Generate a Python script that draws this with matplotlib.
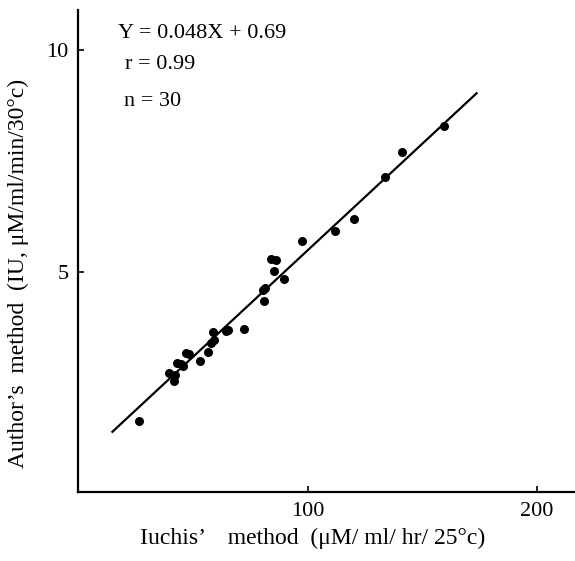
import numpy as np
import matplotlib
matplotlib.use('Agg')
import matplotlib.pyplot as plt

plt.rcParams['font.family'] = ['Liberation Serif', 'DejaVu Serif']

# Iuchis' method vs author's method
iuchi = [26.3, 39.5, 42.1, 41.7, 43.0, 44.7, 45.8, 46.9, 48.2, 53.1,
         56.6, 57.9, 59.2, 58.8, 64.5, 65.4, 72.4, 81.1, 80.7, 81.6,
         89.9, 85.5, 84.2, 86.4, 97.4, 111.8, 120.2, 133.8, 141.2, 159.6]
author = [1.64, 2.72, 2.68, 2.55, 2.95, 2.93, 2.88, 3.18, 3.15, 3.00,
          3.20, 3.40, 3.47, 3.65, 3.67, 3.69, 3.72, 4.35, 4.59, 4.64,
          4.84, 5.02, 5.29, 5.27, 5.70, 5.92, 6.19, 7.14, 7.70, 8.29]

slope, icpt = 0.048, 0.69
line_x = np.array([14.9, 173.7])

fig = plt.figure(figsize=(5.75, 5.61), dpi=100)
ax = fig.add_axes([0.136, 0.123, 0.864, 0.859])

ax.scatter(iuchi, author, s=30, color='black', zorder=3)
ax.plot(line_x, slope * line_x + icpt, color='black', lw=1.6)

ax.set_xlim(0, 216.6)
ax.set_ylim(0.05, 10.9)
ax.set_xticks([100, 200])
ax.set_yticks([5, 10])
ax.tick_params(direction='in', length=4, width=1.2, labelsize=16, pad=7)
for s in ['top', 'right']:
    ax.spines[s].set_visible(False)
for s in ['left', 'bottom']:
    ax.spines[s].set_linewidth(1.6)

# axis titles, placed by hand
fig.text(313 / 575, 1 - 538 / 561, "Iuchis’    method  (μM/ ml/ hr/ 25°c)",
         fontsize=17, ha='center', va='center')
fig.text(18 / 575, 1 - 273 / 561, "Author’s  method  (IU, μM/ml/min/30°c)",
         fontsize=17, ha='center', va='center', rotation=90)

ax.text(0.08, 0.952, 'Y = 0.048X + 0.69', transform=ax.transAxes, fontsize=16, va='center')
ax.text(0.094, 0.888, 'r = 0.99', transform=ax.transAxes, fontsize=16, va='center')
ax.text(0.092, 0.81, 'n = 30', transform=ax.transAxes, fontsize=16, va='center')

fig.savefig('out.png', dpi=100)
plt.close()
